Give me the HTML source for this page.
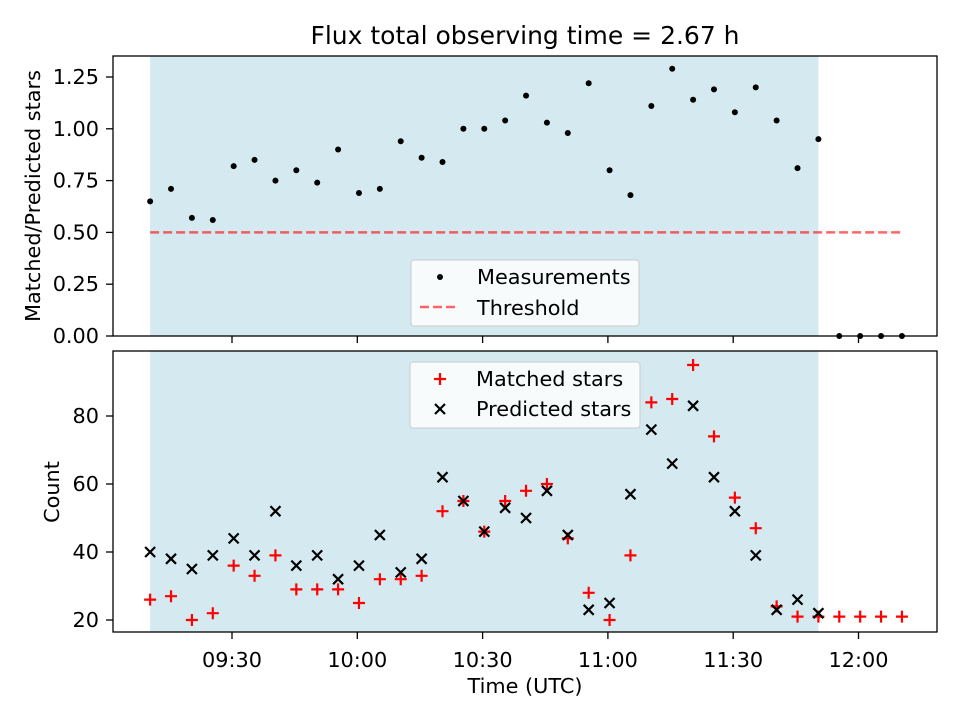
<!DOCTYPE html>
<html><head><meta charset="utf-8"><style>
body{margin:0;background:#fff;font-family:"Liberation Sans","DejaVu Sans",sans-serif}
svg text{font-family:"DejaVu Sans","Liberation Sans",sans-serif}
</style></head><body>
<svg id="c" width="960" height="720" viewBox="0 0 960 720" xmlns="http://www.w3.org/2000/svg"></svg>
<script>
const startMin = 550.4; // 09:10.4 UTC
const stepMin = 5;
const ratio = [0.65,0.71,0.57,0.56,0.82,0.85,0.75,0.80,0.74,0.90,0.69,0.71,0.94,0.86,0.84,1.00,1.00,1.04,1.16,1.03,0.98,1.22,0.80,0.68,1.11,1.29,1.14,1.19,1.08,1.20,1.04,0.81,0.95,0,0,0,0];
const matched = [26,27,20,22,36,33,39,29,29,29,25,32,32,33,52,55,46,55,58,60,44,28,20,39,84,85,95,74,56,47,24,21,21,21,21,21,21];
const predicted = [40,38,35,39,44,39,52,36,39,32,36,45,34,38,62,55,46,53,50,58,45,23,25,57,76,66,83,62,52,39,23,26,22];
const threshold = 0.5;
const shadeStartIdx = 0, shadeEndIdx = 32;
const xTickMins = [570,600,630,660,690,720];
const xTickLabels = ["09:30","10:00","10:30","11:00","11:30","12:00"];
const topTicks = [0,0.25,0.5,0.75,1.0,1.25];
const botTicks = [20,40,60,80];

const NS="http://www.w3.org/2000/svg";
const svg=document.getElementById('c');
function el(t,a,p){const e=document.createElementNS(NS,t);for(const k in a)e.setAttribute(k,a[k]);(p||svg).appendChild(e);return e;}
function tx(i){return startMin+stepMin*i;}
const X=m=>232+(m-570)*125.3/30;
const L=113,R=937;
const T1=56,B1=336; const Y1=v=>336-v*207.2;
const T2=351,B2=632; const Y2=v=>620-(v-20)*3.4;
const FS=20.8;

let t=el('text',{x:525,y:44,'font-size':25,'text-anchor':'middle'});

t.textContent='Flux total observing time = 2.67 h';

function panel(T,B,name){
  const s=el('rect',{x:X(tx(shadeStartIdx)),y:T,width:X(tx(shadeEndIdx))-X(tx(shadeStartIdx)),height:B-T,fill:'#d4e9f0'});
  
  xTickMins.forEach(m=>{el('line',{x1:X(m),x2:X(m),y1:B,y2:B+7,stroke:'#000','stroke-width':1.3});});
}
panel(T1,B1,'top');panel(T2,B2,'bottom');

// top panel
let th=el('line',{x1:X(tx(0)),x2:X(tx(ratio.length-1)),y1:Y1(threshold),y2:Y1(threshold),stroke:'rgba(255,0,0,0.6)','stroke-width':2.5,'stroke-dasharray':'9,4'});

ratio.forEach((v,i)=>{const c=el('circle',{cx:X(tx(i)),cy:Y1(v),r:3,fill:'#000'});
});
topTicks.forEach(v=>{el('line',{x1:L-7,x2:L,y1:Y1(v),y2:Y1(v),stroke:'#000','stroke-width':1.3});
const q=el('text',{x:L-14,y:Y1(v)+7,'font-size':FS,'text-anchor':'end'});q.textContent=v.toFixed(2);
});
el('rect',{x:L,y:T1,width:R-L,height:B1-T1,fill:'none',stroke:'#000','stroke-width':1.3});
let yl=el('text',{x:0,y:0,'font-size':FS,'text-anchor':'middle',transform:'translate(40,196) rotate(-90)'});
yl.textContent='Matched/Predicted stars';
// legend top
let lg=el('g',{});
el('rect',{x:411,y:260,width:228,height:66,rx:3,fill:'rgba(255,255,255,0.8)',stroke:'#ccc'},lg);
el('circle',{cx:440,cy:277,r:3,fill:'#000'},lg);
el('line',{x1:420,x2:458,y1:307,y2:307,stroke:'rgba(255,0,0,0.6)','stroke-width':2.5,'stroke-dasharray':'9,4'},lg);
let a=el('text',{x:477,y:284,'font-size':FS},lg);a.textContent='Measurements';
a=el('text',{x:477,y:315,'font-size':FS},lg);a.textContent='Threshold';

// bottom panel
matched.forEach((v,i)=>{const x=X(tx(i)),y=Y2(v);const g=el('path',{d:`M${x-6},${y}H${x+6}M${x},${y-6}V${y+6}`,stroke:'red','stroke-width':2.2});
});
predicted.forEach((v,i)=>{const x=X(tx(i)),y=Y2(v);const g=el('path',{d:`M${x-5},${y-5}L${x+5},${y+5}M${x-5},${y+5}L${x+5},${y-5}`,stroke:'#000','stroke-width':2.2});
});
botTicks.forEach(v=>{el('line',{x1:L-7,x2:L,y1:Y2(v),y2:Y2(v),stroke:'#000','stroke-width':1.3});
const q=el('text',{x:L-14,y:Y2(v)+7,'font-size':FS,'text-anchor':'end'});q.textContent=v;
});
xTickMins.forEach((m,i)=>{const q=el('text',{x:X(m),y:667,'font-size':FS,'text-anchor':'middle'});q.textContent=xTickLabels[i];
});
el('rect',{x:L,y:T2,width:R-L,height:B2-T2,fill:'none',stroke:'#000','stroke-width':1.3});
yl=el('text',{x:0,y:0,'font-size':FS,'text-anchor':'middle',transform:'translate(59,492) rotate(-90)'});
yl.textContent='Count';
let xl=el('text',{x:525,y:693,'font-size':FS,'text-anchor':'middle'});xl.textContent='Time (UTC)';

lg=el('g',{});
el('rect',{x:410,y:362,width:230,height:66,rx:3,fill:'rgba(255,255,255,0.8)',stroke:'#ccc'},lg);
el('path',{d:'M434,379H446M440,373V385',stroke:'red','stroke-width':2.2},lg);
el('path',{d:'M435,404L445,414M435,414L445,404',stroke:'#000','stroke-width':2.2},lg);
a=el('text',{x:476,y:386,'font-size':FS},lg);a.textContent='Matched stars';
a=el('text',{x:476,y:416,'font-size':FS},lg);a.textContent='Predicted stars';
</script>
</body></html>
